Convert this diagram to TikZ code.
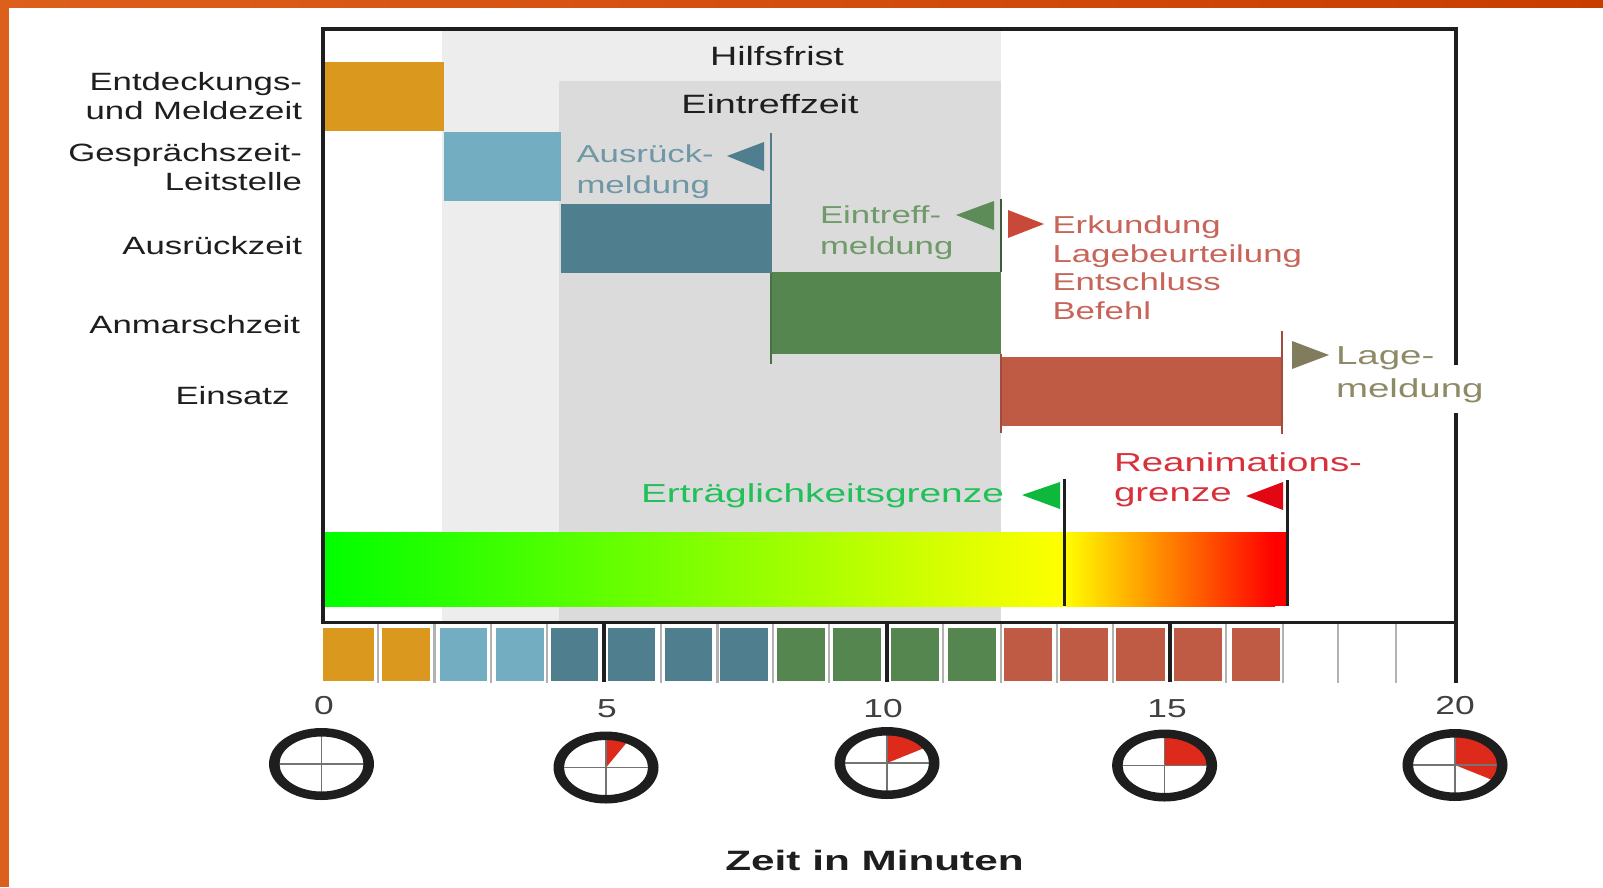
\documentclass[tikz,border=0pt]{standalone}
\usepackage{fontspec}
\setmainfont{Liberation Sans}
\definecolor{oStrip}{HTML}{DD5F1C}
\definecolor{oStripB}{HTML}{C93C00}
\definecolor{bgOuter}{HTML}{EDEDED}
\definecolor{bgInner}{HTML}{DBDBDB}
\definecolor{cOrange}{HTML}{DB981F}
\definecolor{cLight}{HTML}{72ADC2}
\definecolor{cTeal}{HTML}{4F7E8E}
\definecolor{cGreen}{HTML}{568650}
\definecolor{cRed}{HTML}{BF5A45}
\definecolor{tTeal}{HTML}{6F97A6}
\definecolor{tGreen}{HTML}{6F9A69}
\definecolor{tRed}{HTML}{C8655A}
\definecolor{tOlive}{HTML}{8F8A66}
\definecolor{tLime}{HTML}{1FC158}
\definecolor{tCrimson}{HTML}{D9303A}
\definecolor{triRed}{HTML}{C8493A}
\definecolor{triLime}{HTML}{0DB83C}
\definecolor{triCrim}{HTML}{E30613}
\definecolor{sector}{HTML}{DD2A1B}
\definecolor{ink}{HTML}{1E1E1E}
\definecolor{pureG}{RGB}{0,255,0}
\definecolor{pureY}{RGB}{255,255,0}
\definecolor{pureR}{RGB}{255,0,0}
\tikzset{
  txt/.style={inner sep=0pt,outer sep=0pt,transform shape,xscale=#1},
  lab/.style={txt=1.39,font=\fontsize{25}{28.2}\selectfont,text=ink,anchor=base east,align=right},
  head/.style={txt=1.42,font=\fontsize{26.5}{31}\selectfont,text=ink,anchor=base},
  col/.style={txt=1.42,font=\fontsize{24.5}{30.5}\selectfont,anchor=base west,align=left},
  col2/.style={txt=1.495,font=\fontsize{26}{30}\selectfont,anchor=base west,align=left},
  col3/.style={txt=1.48,font=\fontsize{26}{30}\selectfont,anchor=base west,align=left},
  num/.style={txt=1.36,font=\fontsize{26}{30}\selectfont,text=ink!85,anchor=base},
  rule/.style={line width=#1,line cap=butt},
}
\newcommand{\barrect}[5]{\fill[#1] (#2,#3) rectangle (#4,#5);}
\newcommand{\mycell}[3]{\fill[#1] (#2,627.5) rectangle (#3,681);}
\newcommand{\myclock}[3]{%
  \begin{scope}[shift={(#1,#2)}]
    \fill[sector] (0,0) -- (0,-31) arc[start angle=-90,end angle={-90+#3},x radius=44.6,y radius=31] -- cycle;
    \draw[gray!90!black,line width=1.4pt] (-44,0) -- (44,0) (0,-31) -- (0,31);
    \fill[ink,even odd rule] (0,0) ellipse[x radius=52.5,y radius=36] (0,0) ellipse[x radius=42,y radius=27.5];
  \end{scope}}
\begin{document}
\begin{tikzpicture}[x=1pt,y=-1pt]
\useasboundingbox (0,0) rectangle (1603,887);
\fill[white] (0,0) rectangle (1603,887);
% orange slide edge
\shade[left color=oStrip,right color=oStripB] (0,0) rectangle (1603,7);
\fill[oStrip] (0,0) rectangle (9,887);
% background bands
\fill[bgOuter] (442,30) rectangle (1001,622);
\fill[bgInner] (559,81) rectangle (1001,622);
% bars
\barrect{cOrange}{323}{62}{444}{131}
\barrect{cLight}{444}{132}{561}{201}
\barrect{cTeal}{561}{204}{771}{273}
\barrect{cGreen}{771}{272}{1001}{354}
\barrect{cRed}{1001}{357}{1282}{426}
% event lines
\draw[rule=2pt,cTeal] (771,133) -- (771,273);
\draw[rule=2pt,cGreen!85!black] (771,273) -- (771,364);
\draw[rule=1.6pt,cGreen!70!black] (1001,199) -- (1001,272);
\draw[rule=2pt,cRed!85!black] (1001,354) -- (1001,433);
\draw[rule=1.6pt,cRed!85!black] (1282,331) -- (1282,434);
% triangles
\fill[cTeal] (727,156) -- (764,142) -- (764,171) -- cycle;
\fill[cGreen!95!white] (956,215) -- (994,201) -- (994,230) -- cycle;
\fill[triRed] (1008,210) -- (1044,224) -- (1008,238) -- cycle;
\fill[tOlive!90!black] (1292,341) -- (1329,355) -- (1292,369) -- cycle;
\fill[triLime] (1022,495) -- (1060,482) -- (1060,509) -- cycle;
\fill[triCrim] (1246,496) -- (1283,482) -- (1283,510) -- cycle;
% gradient bar
\shade[left color=pureG,right color=pureY] (323,532) rectangle (1063,606);
\shade[left color=pureY,right color=pureR] (1064,532) rectangle (1275,606);
\fill[pureR] (1275,532) rectangle (1286,606);
\draw[rule=3.5pt,ink] (1064.5,479) -- (1064.5,606);
\draw[rule=3pt,ink] (1287,480) -- (1287,606);
% minute cells
\mycell{cOrange}{323}{373.5}
\mycell{cOrange}{382}{429.5}
\mycell{cLight}{439.5}{487}
\mycell{cLight}{496}{543.5}
\mycell{cTeal}{550.5}{598}
\mycell{cTeal}{608}{654.5}
\mycell{cTeal}{664.5}{712}
\mycell{cTeal}{720}{768}
\mycell{cGreen}{777}{825}
\mycell{cGreen}{833}{881}
\mycell{cGreen}{891}{939}
\mycell{cGreen}{948}{996}
\mycell{cRed}{1004}{1052}
\mycell{cRed}{1060}{1108}
\mycell{cRed}{1116}{1165}
\mycell{cRed}{1174}{1222}
\mycell{cRed}{1232}{1280}
% minute ticks
\foreach \tx in {378,434.5,491,547,661,717.5,773,829,943,1001,1057,1113,1226,1283,1338,1396}
  \draw[rule=2.5pt,gray!60] (\tx,623) -- (\tx,683);
\foreach \tx in {604,887,1170}
  \draw[rule=4pt,ink] (\tx,622) -- (\tx,682);
% frame
\draw[rule=3.5pt,ink,line join=miter] (1456,365) -- (1456,29) -- (323,29) -- (323,624);
\draw[rule=3.5pt,ink] (321.3,622.5) -- (1456,622.5);
\draw[rule=3.5pt,ink] (1456,413) -- (1456,683);
% labels
\node[lab] (l1) at (302,119) {Entdeckungs-\\und Meldezeit};
\node[lab] (l2) at (302,190) {Gesprächszeit-\\Leitstelle};
\node[lab] (l3) at (302,254) {Ausrückzeit};
\node[lab] (l4) at (300,333) {Anmarschzeit};
\node[lab] (l5) at (289.5,404) {Einsatz};
\node[head] (hf) at (777,65) {Hilfsfrist};
\node[head] (ez) at (770,113) {Eintreffzeit};
\node[col,text=tTeal] (am) at (576.5,193) {Ausrück-\\meldung};
\node[col,text=tGreen] (em) at (820,254) {Eintreff-\\meldung};
\node[col,text=tRed,font=\fontsize{24.5}{28.4}\selectfont] (er) at (1052.5,319) {Erkundung\\Lagebeurteilung\\Entschluss\\Befehl};
\node[col3,text=tOlive,font=\fontsize{26}{33}\selectfont] (lm) at (1336,397) {Lage-\\meldung};
\node[col2,text=tLime] (eg) at (641,502) {Erträglichkeitsgrenze};
\node[col3,text=tCrimson] (rg) at (1114,501) {Reanimations-\\grenze};
% numbers
\node[num] (n0) at (324,714) {0};
\node[num] (n5) at (607,717) {5};
\node[num] (n10) at (883,717) {10};
\node[num] (n15) at (1167,717) {15};
\node[num] (n20) at (1455,714) {20};
% clocks
\myclock{321.5}{764}{0}
\myclock{606}{767.5}{30}
\myclock{887}{763}{60}
\myclock{1164.6}{765.5}{90}
\myclock{1455}{765}{120}
\node[txt=1.51,font=\fontsize{28}{32}\selectfont\bfseries,text=ink,anchor=base] (zm) at (874.5,870) {Zeit in Minuten};
\end{tikzpicture}
\end{document}
